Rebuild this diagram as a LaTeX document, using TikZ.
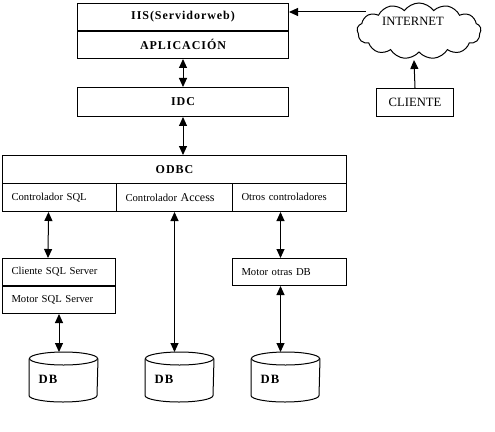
\documentclass[tikz,border=0pt]{standalone}
\usepackage{fontspec}
\setmainfont{Liberation Serif}
\newfontfamily\bsp[LetterSpace=8]{Liberation Serif}
\usetikzlibrary{arrows.meta,shapes.symbols,calc}
\newdimen\px \px=0.75pt
\newcommand\dbcyl[1]{%
  \draw ($(#1.north west)+(0,6.5)$) -- ($(#1.south west)+(0,-6.5)$)
    arc[start angle=180,end angle=360,x radius=34\px,y radius=6.5\px]
    -- ($(#1.north east)+(0,6.5)$);
  \draw ($(#1.north)+(0,6.5)$) ellipse[x radius=34\px,y radius=6.5\px];}
\begin{document}
\begin{tikzpicture}[x=0.75pt,y=-0.75pt,line width=0.75pt,
  box/.style={draw,inner sep=0pt,anchor=north west},
  tbox/.style={box,inner xsep=9\px,align=left,font=\fontsize{8}{9.6}\selectfont},
  bold/.style={font=\bsp\bfseries\fontsize{9}{11}\selectfont},
  reg/.style={font=\fontsize{9.5}{11}\selectfont},
  arr/.style={-{Triangle[width=6pt,length=6.75pt]}},
  dbl/.style={{Triangle[width=6pt,length=6.75pt]}-{Triangle[width=6pt,length=6.75pt]}},
  thick sep/.style={line width=1.5pt}]
\useasboundingbox (0,0) rectangle (495,431);
% top stack
\node[box,bold,minimum width=211\px,minimum height=27\px] (iis) at (77,3) {IIS(Servidorweb)};
\node[box,bold,minimum width=211\px,minimum height=28\px] (app) at (77,30) {APLICACIÓN};
\draw[thick sep] (iis.south west) -- (iis.south east);
\node[box,bold,minimum width=211\px,minimum height=29\px] (idc) at (77,87) {IDC};
% ODBC
\node[box,bold,minimum width=344\px,minimum height=28\px] (odbc) at (2,155) {ODBC};
\node[tbox,minimum height=28\px,text width=96\px] (c1) at (2,183) {Controlador SQL};
\node[tbox,minimum height=28\px,text width=98\px] (c2) at (116,183) {\raisebox{-2pt}{Controlador {\fontsize{9}{10}\selectfont Access}}};
\node[tbox,minimum height=28\px,text width=96\px] (c3) at (232,183) {\raisebox{1pt}{Otros controladores}};
% engines
\node[tbox,minimum height=27\px,text width=95\px] (csql) at (2,258) {Cliente SQL Server};
\node[tbox,minimum height=28\px,text width=95\px] (msql) at (2,285) {Motor SQL Server};
\draw[thick sep] (csql.south west) -- (csql.south east);
\node[tbox,minimum height=27\px,text width=96\px] (motros) at (232,258) {Motor otras DB};
% databases
\node[box,draw=none,minimum width=68\px,minimum height=49\px] (db1) at (29,352) {};
\node[box,draw=none,minimum width=68\px,minimum height=49\px] (db2) at (145,352) {};
\node[box,draw=none,minimum width=68\px,minimum height=49\px] (db3) at (251,352) {};
\dbcyl{db1}\dbcyl{db2}\dbcyl{db3}
\node[bold,font=\bsp\bfseries\fontsize{9.5}{11}\selectfont] (l1) at (48,379) {DB};
\node[bold,font=\bsp\bfseries\fontsize{9.5}{11}\selectfont] (l2) at (164,379) {DB};
\node[bold,font=\bsp\bfseries\fontsize{9.5}{11}\selectfont] (l3) at (270,379) {DB};
% internet and client
\node[cloud,draw,cloud puffs=13,cloud puff arc=110,aspect=2.2,minimum width=124\px,minimum height=56\px,inner sep=0pt] (cloud) at (419,31) {};
\node[reg] (inet) at (413,21) {INTERNET};
\node[box,reg,minimum width=77\px,minimum height=28\px] (cli) at (376,88) {CLIENTE};
\coordinate (cl) at (366,12);
\coordinate (clb) at (414,60);
% connectors
\draw[arr] (cl) -- (iis.east |- cl);
\draw[arr] (cli.north) -- (clb);
\draw[dbl] (app.south) -- (idc.north);
\draw[dbl] (idc.south) -- (idc.south |- odbc.north);
\draw[dbl] ([xshift=-11\px]c1.south) -- ([xshift=-11\px]csql.north);
\draw[dbl] (c2.south) -- (c2.south |- db2.north);
\draw[dbl] ([xshift=-9\px]c3.south) -- ([xshift=-9\px]c3.south |- motros.north);
\draw[dbl] (msql.south) -- (msql.south |- db1.north);
\draw[dbl] ([xshift=-9\px]motros.south) -- ([xshift=-9\px]motros.south |- db3.north);
\end{tikzpicture}
\end{document}
